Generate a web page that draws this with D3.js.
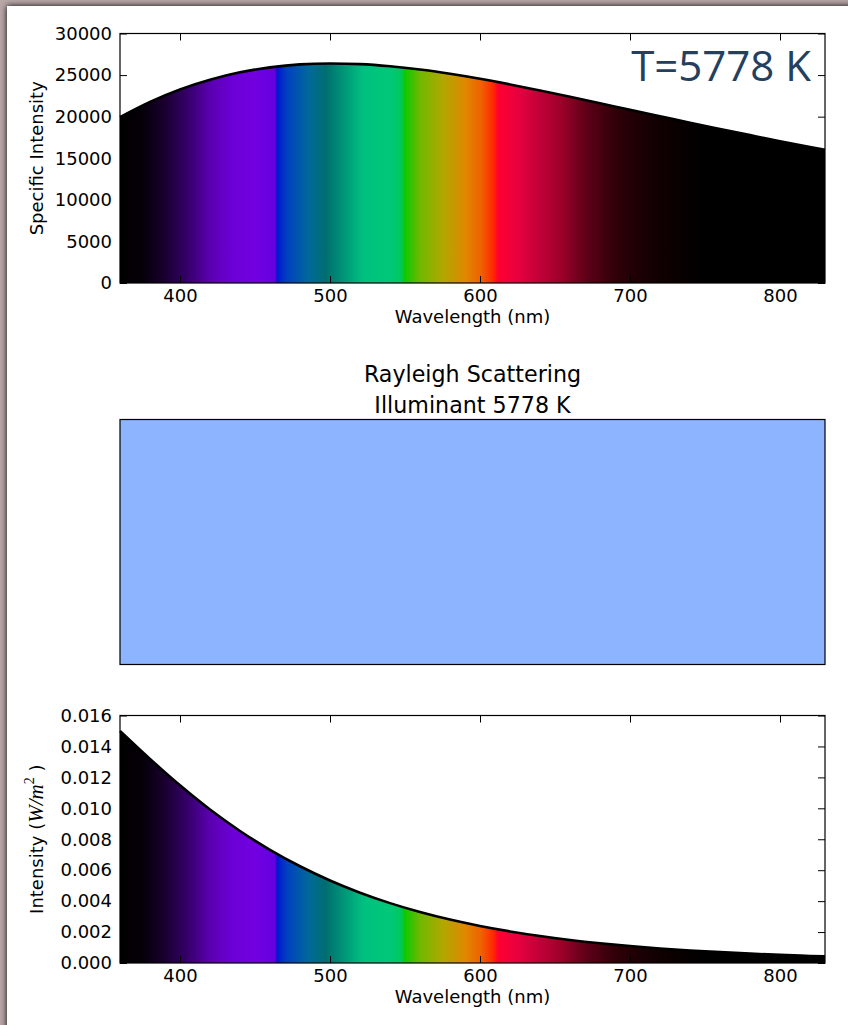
<!DOCTYPE html>
<html>
<head>
<meta charset="utf-8">
<script src="https://d3js.org/d3.v7.min.js"></script>
<style>
  html, body { margin: 0; padding: 0; background: #b9a7a8; }
  svg { display: block; }
</style>
</head>
<body>
<script>
// ---------- data ----------
const wavelengths = [360, 380, 400, 420, 440, 460, 480, 500, 520, 540, 560, 580, 600,
                     620, 640, 660, 680, 700, 720, 740, 760, 780, 800, 820, 830];
const specificIntensity = [19950, 21780, 23280, 24440, 25330, 25930, 26290, 26400, 26319,
                           26063, 25668, 25154, 24554, 23877, 23157, 22397, 21615, 20823,
                           20050, 19270, 18520, 17780, 17050, 16350, 16010];
const scatteredIntensity = [0.01500, 0.013191, 0.011484, 0.009919, 0.008535, 0.007314,
                            0.006254, 0.005334, 0.004546, 0.003871, 0.003296, 0.002807,
                            0.002393, 0.002041, 0.001743, 0.001491, 0.001277, 0.001095,
                            0.000942, 0.000812, 0.000701, 0.000607, 0.000526, 0.000457,
                            0.000440];
const wavelengthDomain = [360, 830];
const wavelengthTicks = [400, 500, 600, 700, 800];
const specificTicks = [0, 5000, 10000, 15000, 20000, 25000, 30000];
const scatterTicks = [0, 0.002, 0.004, 0.006, 0.008, 0.010, 0.012, 0.014, 0.016];
// visible spectrum colours along the wavelength axis
const spectrumStops = [
  [360, "#000000"], [375, "#050008"], [390, "#1a0030"], [405, "#35006a"],
  [420, "#5a00b0"], [435, "#6c00d6"], [450, "#7200e0"], [463, "#6400e0"],
  [465, "#0018d0"], [471, "#0040c0"], [486, "#006a98"], [497, "#006e70"],
  [510, "#009878"], [522, "#00c080"], [540, "#00c878"], [547, "#00c860"],
  [550, "#10c800"], [560, "#70b800"], [575, "#b0a800"], [590, "#e08800"],
  [601, "#f06000"], [609, "#ff2800"], [612, "#ff0030"], [625, "#e80040"],
  [640, "#c00038"], [655, "#9a0028"], [670, "#600018"], [690, "#300008"],
  [710, "#180003"], [730, "#0a0000"], [750, "#000000"], [830, "#000000"]
];
const tempLabel = "T=5778 K";
const titleLines = ["Rayleigh Scattering", "Illuminant 5778 K"];
const skyColor = "#8db4fe";

// ---------- layout ----------
const W = 848, H = 1025;
const plotLeft = 120, plotRight = 825;
const topPanel = {top: 33.5, bottom: 283};
const midPanel = {top: 419.5, bottom: 664.5};
const botPanel = {top: 715.5, bottom: 963};
const font = "'DejaVu Sans', sans-serif";
const fontSize = 18;

const svg = d3.select("body").append("svg")
  .attr("width", W).attr("height", H);

const defs = svg.append("defs");
const shadow = defs.append("filter").attr("id", "shadow")
  .attr("x", "-5%").attr("y", "-5%").attr("width", "110%").attr("height", "110%");
shadow.append("feGaussianBlur").attr("in", "SourceAlpha").attr("stdDeviation", 3);
shadow.append("feOffset").attr("dx", 0).attr("dy", 0).attr("result", "b");
const merge = shadow.append("feMerge");
merge.append("feMergeNode").attr("in", "b");
merge.append("feMergeNode").attr("in", "SourceGraphic");

// white sheet
svg.append("rect").attr("x", 7).attr("y", 6).attr("width", W + 20).attr("height", H + 20)
  .attr("fill", "#fff").attr("filter", "url(#shadow)");

const x = d3.scaleLinear().domain(wavelengthDomain).range([plotLeft, plotRight]);

// spectrum gradient, in user space so both panels share it
const grad = defs.append("linearGradient").attr("id", "spectrum")
  .attr("gradientUnits", "userSpaceOnUse")
  .attr("x1", x(wavelengthDomain[0])).attr("x2", x(wavelengthDomain[1]))
  .attr("y1", 0).attr("y2", 0);
grad.selectAll("stop").data(spectrumStops).enter().append("stop")
  .attr("offset", d => (d[0] - wavelengthDomain[0]) / (wavelengthDomain[1] - wavelengthDomain[0]))
  .attr("stop-color", d => d[1]);

function styleAxis(g) {
  g.select(".domain").remove();
  g.selectAll(".tick line").attr("stroke", "#000").attr("stroke-width", 1);
  g.selectAll(".tick text").attr("fill", "#000")
    .style("font-family", font).style("font-size", fontSize + "px");
}

function spectrumPanel(panel, values, yDomain, yTicks, yFormat, yLabel) {
  const y = d3.scaleLinear().domain(yDomain).range([panel.bottom, panel.top]);
  const g = svg.append("g");
  const pts = wavelengths.map((w, i) => [w, values[i]]);

  g.append("path").datum(pts)
    .attr("fill", "url(#spectrum)")
    .attr("d", d3.area().curve(d3.curveMonotoneX)
      .x(d => x(d[0])).y0(y(0)).y1(d => y(d[1])));
  g.append("path").datum(pts)
    .attr("fill", "none").attr("stroke", "#000").attr("stroke-width", 2.6)
    .attr("d", d3.line().curve(d3.curveMonotoneX).x(d => x(d[0])).y(d => y(d[1])));

  g.append("g").attr("transform", `translate(0,${panel.bottom})`)
    .call(d3.axisBottom(x).tickValues(wavelengthTicks).tickSize(-7).tickPadding(6)
      .tickFormat(d3.format("d")))
    .call(styleAxis);
  g.append("g").attr("transform", `translate(0,${panel.top})`)
    .call(d3.axisTop(x).tickValues(wavelengthTicks).tickSize(-7).tickFormat(""))
    .call(styleAxis);
  g.append("g").attr("transform", `translate(${plotLeft},0)`)
    .call(d3.axisLeft(y).tickValues(yTicks).tickSize(-7).tickPadding(8).tickFormat(yFormat))
    .call(styleAxis);
  g.append("g").attr("transform", `translate(${plotRight},0)`)
    .call(d3.axisRight(y).tickValues(yTicks).tickSize(-7).tickFormat(""))
    .call(styleAxis);

  g.append("rect")
    .attr("x", plotLeft).attr("y", panel.top)
    .attr("width", plotRight - plotLeft).attr("height", panel.bottom - panel.top)
    .attr("fill", "none").attr("stroke", "#000").attr("stroke-width", 1.2);

  g.append("text")
    .attr("x", (plotLeft + plotRight) / 2).attr("y", panel.bottom + 40)
    .attr("text-anchor", "middle")
    .style("font-family", font).style("font-size", fontSize + "px")
    .text("Wavelength (nm)");

  const lab = g.append("text")
    .attr("transform", `translate(43,${(panel.top + panel.bottom) / 2}) rotate(-90)`)
    .attr("text-anchor", "middle")
    .style("font-family", font).style("font-size", fontSize + "px");
  yLabel(lab);
  return g;
}

// top: blackbody spectrum
const topChart = spectrumPanel(topPanel, specificIntensity, [0, 30000], specificTicks,
  d3.format("d"), t => t.text("Specific Intensity"));

topChart.append("text")
  .attr("x", 811).attr("y", 81)
  .attr("text-anchor", "end")
  .attr("fill", "#23405f")
  .style("font-family", "'Open Sans', sans-serif").style("font-size", "42px")
  .text(tempLabel);

// middle: sky colour swatch
svg.append("rect")
  .attr("x", plotLeft).attr("y", midPanel.top)
  .attr("width", plotRight - plotLeft).attr("height", midPanel.bottom - midPanel.top)
  .attr("fill", skyColor).attr("stroke", "#000").attr("stroke-width", 1.2);

svg.selectAll(".title").data(titleLines).enter().append("text")
  .attr("class", "title")
  .attr("x", (plotLeft + plotRight) / 2)
  .attr("y", (d, i) => 382 + i * 31)
  .attr("text-anchor", "middle")
  .style("font-family", font).style("font-size", "22.2px")
  .text(d => d);

// bottom: scattered spectrum
spectrumPanel(botPanel, scatteredIntensity, [0, 0.016], scatterTicks,
  d3.format(".3f"), t => {
    t.append("tspan").text("Intensity (");
    t.append("tspan").style("font-family", "'Liberation Serif', serif")
      .style("font-style", "italic").style("font-size", "21px").text("W/m");
    t.append("tspan").attr("dy", -9).style("font-family", "'Liberation Serif', serif")
      .style("font-size", "14px").text("2");
    t.append("tspan").attr("dy", 9).text(" )");
  });
</script>
</body>
</html>
